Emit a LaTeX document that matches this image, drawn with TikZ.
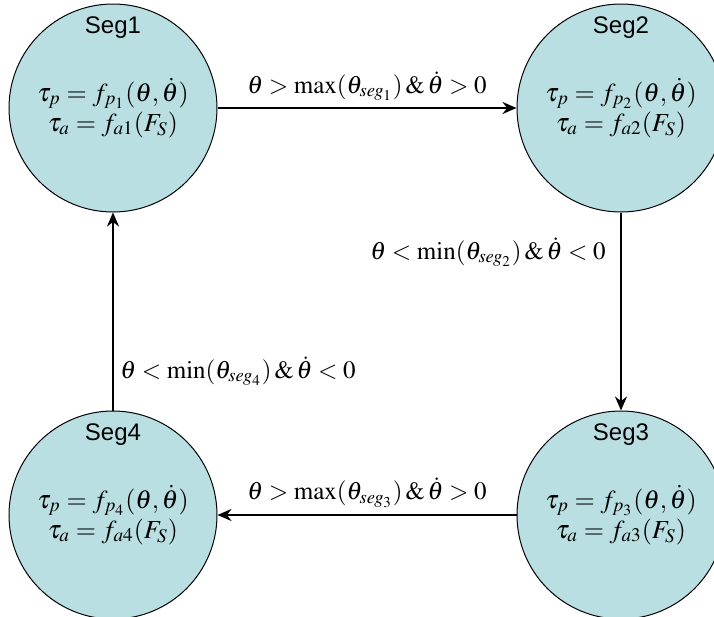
\documentclass[tikz,border=0pt]{standalone}
\usepackage{mathptmx}
\usepackage{fontspec}
\setsansfont{Liberation Sans}
\usetikzlibrary{arrows.meta}
\definecolor{segfill}{HTML}{B9DFE3}
\tikzset{
  every picture/.style={line width=1.4pt},
  seg/.style={circle, draw=black, line width=0.5pt, fill=segfill, minimum size=104pt, inner sep=0pt,
    align=center, font=\fontsize{13}{15}\selectfont,
    label={[anchor=center, label distance=-12pt, font=\sffamily\fontsize{12}{14}\selectfont]90:#1}},
  arrow/.style={-{Stealth[length=7pt, width=6pt]}, draw=black, line width=1.4pt},
  cond/.style={font=\fontsize{12.5}{14}\selectfont, inner sep=3pt},
}
\begin{document}
\begin{tikzpicture}[x=0.5pt, y=-0.5pt]
  \useasboundingbox (0,0) rectangle (714,617);
  % ---- segments ----
  \node[seg=Seg1] (seg1) at (113,108) {$\tau_p = f_{p_1}(\theta,\dot\theta)$\\ $\tau_a = f_{a1}(F_S)$};
  \node[seg=Seg2] (seg2) at (621,108) {$\tau_p = f_{p_2}(\theta,\dot\theta)$\\ $\tau_a = f_{a2}(F_S)$};
  \node[seg=Seg3] (seg3) at (621,515) {$\tau_p = f_{p_3}(\theta,\dot\theta)$\\ $\tau_a = f_{a3}(F_S)$};
  \node[seg=Seg4] (seg4) at (113,515) {$\tau_p = f_{p_4}(\theta,\dot\theta)$\\ $\tau_a = f_{a4}(F_S)$};
  % ---- transitions ----
  \draw[arrow] (seg1) -- node[cond, above] {$\theta > \max(\theta_{seg_1})\,\&\,\dot\theta > 0$} (seg2);
  \draw[arrow] (seg2) -- node[cond, left, pos=0.2, xshift=-4pt] {$\theta < \min(\theta_{seg_2})\,\&\,\dot\theta < 0$} (seg3);
  \draw[arrow] (seg3) -- node[cond, above] {$\theta > \max(\theta_{seg_3})\,\&\,\dot\theta > 0$} (seg4);
  \draw[arrow] (seg4) -- node[cond, right, pos=0.2] {$\theta < \min(\theta_{seg_4})\,\&\,\dot\theta < 0$} (seg1);
\end{tikzpicture}
\end{document}
